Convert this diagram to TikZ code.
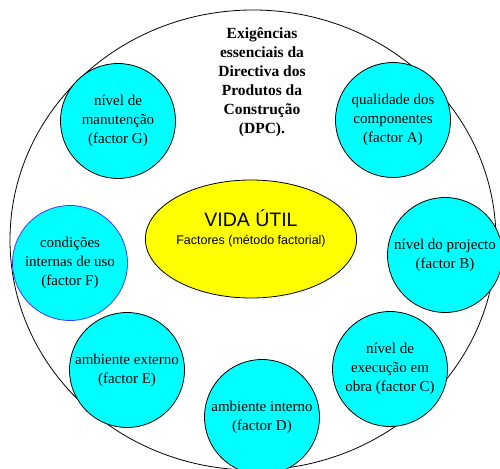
\documentclass[tikz,border=0pt]{standalone}
\usepackage{fontspec}
\setmainfont{Liberation Serif}
\setsansfont{Liberation Sans}
\usetikzlibrary{shapes.geometric}
\definecolor{factorcyan}{RGB}{0,255,255}
\definecolor{vidayellow}{RGB}{255,255,0}
\definecolor{factorblue}{RGB}{60,60,255}
\begin{document}
\begin{tikzpicture}[x=1pt,y=-1pt]
\tikzstyle{factor}=[circle, draw=black, line width=0.8pt, fill=factorcyan, minimum size=115pt, inner sep=0pt, align=center, font=\fontsize{15}{19}\selectfont]
\tikzstyle{core}=[ellipse, draw=black, line width=0.8pt, fill=vidayellow, minimum width=211pt, minimum height=118pt, inner sep=0pt, align=center]
\useasboundingbox (0,0) rectangle (500,468);
\clip (0,0) rectangle (500,468);
\fill [white] (0,0) rectangle (500,468);
% outer boundary
\draw [black, line width=0.8pt] (253,240) ellipse (243 and 230);
\node [align=center, font=\bfseries\fontsize{15.5}{19}\selectfont] (dpc) at (262,82) {Exigências\\essenciais da\\Directiva dos\\Produtos da\\Construção\\(DPC).};
% centre
\node [core] (vida) at (251,239) {{\sffamily\fontsize{19.5}{22}\selectfont VIDA ÚTIL}\\[6pt]{\sffamily\fontsize{12.5}{14}\selectfont Factores (método factorial)}\\[12pt]};
% factors
\node [factor] (fg) at (118,121) {nível de\\manutenção\\(factor G)};
\node [factor] (fa) at (393,120) {qualidade dos\\componentes\\(factor A)};
\node [factor, draw=factorblue] (ff) at (70,263) {condições\\internas de uso\\(factor F)};
\node [factor] (fb) at (445,255) {nível do projecto\\(factor B)};
\node [factor] (fe) at (127,370) {ambiente externo\\(factor E)};
\node [factor] (fc) at (390,369) {nível de\\execução em\\obra (factor C)};
\node [factor] (fd) at (262,417) {ambiente interno\\(factor D)};
\end{tikzpicture}
\end{document}
